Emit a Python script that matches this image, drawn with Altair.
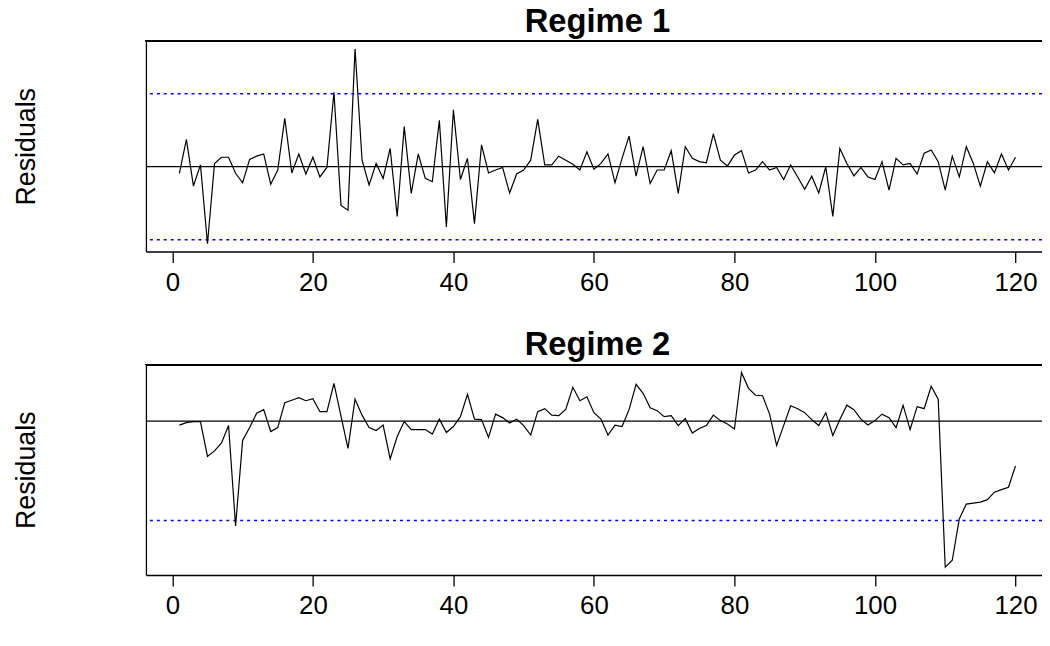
import altair as alt
import pandas as pd

# ---- data ----
obs_index = list(range(1, 121))

regime1_resid = [
    -0.18, 0.75, -0.53, 0.05, -2.11, 0.09, 0.26, 0.26, -0.18, -0.44,
    0.20, 0.29, 0.35, -0.48, -0.09, 1.33, -0.17, 0.35, -0.20, 0.26,
    -0.28, -0.02, 2.04, -1.06, -1.19, 3.23, 0.18, -0.50, 0.09, -0.32,
    0.50, -1.36, 1.10, -0.73, 0.35, -0.32, -0.41, 1.27, -1.65, 1.56,
    -0.35, 0.23, -1.56, 0.60, -0.17, -0.09, -0.02, -0.72, -0.20, -0.09,
    0.18, 1.30, 0.05, 0.05, 0.29, 0.18, 0.07, -0.09, 0.41, -0.07,
    0.09, 0.35, -0.44, 0.23, 0.84, -0.26, 0.55, -0.46, -0.09, -0.09,
    0.44, -0.73, 0.55, 0.23, 0.14, 0.11, 0.90, 0.18, 0.02, 0.32,
    0.44, -0.17, -0.09, 0.14, -0.09, -0.02, -0.35, 0.05, -0.28, -0.62,
    -0.26, -0.72, 0.00, -1.36, 0.50, 0.09, -0.25, -0.02, -0.28, -0.35,
    0.14, -0.64, 0.23, 0.05, 0.09, -0.20, 0.37, 0.46, 0.14, -0.64,
    0.29, -0.28, 0.55, 0.09, -0.53, 0.14, -0.17, 0.35, -0.09, 0.26,
]

regime2_resid = [
    -0.08, -0.03, -0.01, -0.01, -0.71, -0.60, -0.44, -0.09, -2.11, -0.39,
    -0.13, 0.16, 0.23, -0.21, -0.13, 0.37, 0.42, 0.47, 0.41, 0.45,
    0.19, 0.19, 0.76, 0.10, -0.55, 0.44, 0.12, -0.13, -0.19, -0.08,
    -0.76, -0.31, -0.01, -0.17, -0.17, -0.17, -0.26, 0.04, -0.23, -0.11,
    0.09, 0.54, 0.04, 0.03, -0.33, 0.14, 0.07, -0.04, 0.04, -0.09,
    -0.28, 0.19, 0.25, 0.12, 0.11, 0.24, 0.68, 0.41, 0.49, 0.17,
    0.04, -0.28, -0.08, -0.11, 0.23, 0.74, 0.56, 0.27, 0.21, 0.09,
    0.11, -0.09, 0.05, -0.24, -0.15, -0.09, 0.12, 0.01, -0.06, -0.16,
    0.98, 0.66, 0.52, 0.51, 0.14, -0.49, -0.09, 0.31, 0.25, 0.17,
    0.03, -0.09, 0.17, -0.29, 0.03, 0.32, 0.23, 0.04, -0.08, 0.01,
    0.14, 0.07, -0.13, 0.32, -0.17, 0.29, 0.25, 0.70, 0.44, -2.94,
    -2.80, -1.97, -1.67, -1.65, -1.63, -1.58, -1.43, -1.38, -1.33, -0.90,
]

panel_titles = ["Regime 1", "Regime 2"]
zero_level = [0]
band_levels = [2, -2]
x_tick_values = [0, 20, 40, 60, 80, 100, 120]

FONT = "Liberation Sans"
W, H = 910, 212

span = max(obs_index) - min(obs_index)
x_domain = [min(obs_index) - 0.04 * span, max(obs_index) + 0.04 * span]


def panel(values, title):
    df = pd.DataFrame({"t": obs_index, "r": values})
    lo, hi = min(values), max(values)
    ext = 0.04 * (hi - lo)
    y_scale = alt.Scale(domain=[lo - ext, hi + ext], nice=False, zero=False)
    x_scale = alt.Scale(domain=x_domain, nice=False, zero=False)

    x_axis = alt.Axis(values=x_tick_values, title=None, grid=False,
                      tickSize=11, tickWidth=1.3, tickColor="black",
                      domainColor="black", domainWidth=1.3,
                      labelFont=FONT, labelFontSize=26, labelColor="black",
                      labelPadding=7, labelFlush=False)
    y_axis = alt.Axis(title="Residuals", labels=False, ticks=False, grid=False,
                      domainColor="black", domainWidth=1.3,
                      titleFont=FONT, titleFontSize=27, titleFontWeight="normal",
                      titleColor="black", titlePadding=106)

    line = alt.Chart(df).mark_line(color="black", strokeWidth=1.2).encode(
        x=alt.X("t:Q", scale=x_scale, axis=x_axis),
        y=alt.Y("r:Q", scale=y_scale, axis=y_axis),
    )
    zero = alt.Chart(pd.DataFrame({"lvl": zero_level})).mark_rule(
        color="black", strokeWidth=1.3, clip=True
    ).encode(y=alt.Y("lvl:Q", scale=y_scale))
    bands = alt.Chart(pd.DataFrame({"lvl": band_levels})).mark_rule(
        color="#0000FF", strokeWidth=1.6, strokeDash=[3, 4], clip=True
    ).encode(y=alt.Y("lvl:Q", scale=y_scale))
    top_border = alt.Chart(df).mark_rule(color="black", strokeWidth=1.3).encode(
        x=alt.value(0), x2=alt.value(W), y=alt.value(0)
    )

    return alt.layer(bands, zero, line, top_border).properties(
        width=W, height=H,
        title=alt.TitleParams(title, font=FONT, fontSize=33, fontWeight="bold",
                              color="black", anchor="middle", offset=2),
    )


chart = alt.vconcat(
    panel(regime1_resid, panel_titles[0]),
    panel(regime2_resid, panel_titles[1]),
    spacing=34,
).properties(
    # the reference's plot box runs past the right edge of the picture
    padding={"left": 5, "top": -5, "right": -8, "bottom": 0}
).configure_view(stroke=None)

chart.save("out.html", embed_options={"renderer": "svg", "actions": False})
